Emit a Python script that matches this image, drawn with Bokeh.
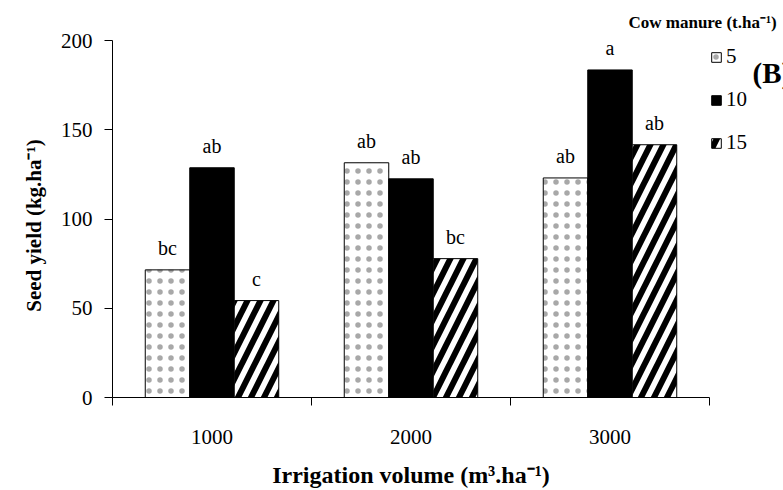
import math
from bokeh.plotting import figure
from bokeh.models import (FixedTicker, ColumnDataSource, Label, Legend, LegendItem,
                          Range1d)
from bokeh.transform import dodge
from bokeh.embed import file_html
from bokeh.resources import INLINE

# ---- data ----
groups = ["1000", "2000", "3000"]          # irrigation volume
manure = ["5", "10", "15"]                 # cow manure levels
yield5 = [71.5, 131.5, 123.0]
yield10 = [128.7, 122.5, 183.5]
yield15 = [54.3, 77.8, 141.6]
let5 = ["bc", "ab", "ab"]
let10 = ["ab", "ab", "a"]
let15 = ["c", "bc", "ab"]
yticks = [0, 50, 100, 150, 200]

FONT = "Liberation Serif"
BW = 0.2236

# frame covers the whole canvas; axes are placed at fixed locations inside it
W, H = 783, 490
PX0, PX3 = 112, 709          # screen x of x=0 and x=3
PY0, PY200 = 397, 40         # screen y of y=0 and y=200
kx = (PX3 - PX0) / 3.0
ky = (PY0 - PY200) / 200.0
x_rng = Range1d(-PX0 / kx, (W - PX0) / kx)
y_rng = Range1d(-(H - PY0) / ky, PY0 / ky)

def dx(px):
    return (px - PX0) / kx

def dy(py):
    return (PY0 - py) / ky

src = ColumnDataSource(dict(
    x=[i + 0.5 for i in range(len(groups))],
    y5=yield5, y10=yield10, y15=yield15,
    l5=let5, l10=let10, l15=let15,
))

p = figure(width=W, height=H, output_backend="svg", toolbar_location=None,
           x_range=x_rng, y_range=y_rng,
           min_border_left=0, min_border_right=0, min_border_top=0,
           min_border_bottom=0)
p.outline_line_color = None
p.xgrid.visible = False
p.ygrid.visible = False
p.background_fill_color = "white"
p.border_fill_color = "white"

r5 = p.vbar(x=dodge("x", -BW, range=p.x_range), top="y5", width=BW, source=src,
            fill_color="white", line_color="black", line_width=1,
            hatch_pattern="dot", hatch_scale=11, hatch_color="#a8a8a8")
r10 = p.vbar(x=dodge("x", 0, range=p.x_range), top="y10", width=BW, source=src,
             fill_color="black", line_color="black", line_width=1)
r15 = p.vbar(x=dodge("x", BW, range=p.x_range), top="y15", width=BW, source=src,
             fill_color="white", line_color="black", line_width=1,
             hatch_pattern="right_diagonal_line", hatch_scale=26, hatch_color="black",
             hatch_weight=6)

for off, ycol, lcol in [(-BW, "y5", "l5"), (0, "y10", "l10"), (BW, "y15", "l15")]:
    p.text(x=dodge("x", off, range=p.x_range), y=ycol, text=lcol, source=src,
           text_align="center", text_baseline="bottom", y_offset=-11,
           text_font=FONT, text_font_size="20px", text_color="black")

# axes
xa = p.xaxis[0]
xa.fixed_location = 0
xa.bounds = (0, len(groups))
xa.ticker = FixedTicker(ticks=[i + 0.5 for i in range(len(groups))],
                        minor_ticks=list(range(len(groups) + 1)))
xa.major_label_overrides = {i + 0.5: g for i, g in enumerate(groups)}
xa.major_tick_out = 0
xa.major_tick_in = 0
xa.minor_tick_out = 8
xa.minor_tick_in = 0
xa.minor_tick_line_color = "black"
xa.axis_line_color = "black"
xa.major_label_standoff = 24
xa.major_label_text_font = FONT
xa.major_label_text_font_size = "21px"
xa.major_label_text_color = "black"

ya = p.yaxis[0]
ya.fixed_location = 0
ya.bounds = (0, 200)
ya.ticker = FixedTicker(ticks=yticks)
ya.minor_tick_line_color = None
ya.major_tick_out = 8
ya.major_tick_in = 0
ya.axis_line_color = "black"
ya.major_label_standoff = 12
ya.major_label_text_font = FONT
ya.major_label_text_font_size = "21px"
ya.major_label_text_color = "black"

# axis titles
p.add_layout(Label(x=1.5, y=dy(474), text="Irrigation volume (m\u00b3.ha\u207b\u00b9)",
                   text_font=FONT, text_font_style="bold", text_font_size="24px",
                   text_align="center", text_baseline="middle", text_color="black"))
p.add_layout(Label(x=dx(33), y=dy(225), text="Seed yield (kg.ha\u207b\u00b9)",
                   angle=math.pi / 2,
                   text_font=FONT, text_font_style="bold", text_font_size="21px",
                   text_align="center", text_baseline="middle", text_color="black"))

legend = Legend(items=[LegendItem(label=manure[0], renderers=[r5]),
                       LegendItem(label=manure[1], renderers=[r10]),
                       LegendItem(label=manure[2], renderers=[r15])],
                location=(710, H - 155), orientation="vertical",
                padding=0, margin=0, spacing=18, border_line_color=None,
                background_fill_alpha=0, glyph_width=12, glyph_height=12,
                label_height=20, label_standoff=4,
                label_text_font=FONT, label_text_font_size="21px",
                label_text_color="black")
p.add_layout(legend, "center")

p.add_layout(Label(x=dx(628), y=dy(22), text="Cow manure (t.ha\u207b\u00b9)",
                   text_font=FONT, text_font_style="bold", text_font_size="17px",
                   text_baseline="middle", text_color="black"))
p.add_layout(Label(x=dx(752), y=dy(72), text="(B)",
                   text_font=FONT, text_font_style="bold", text_font_size="29px",
                   text_baseline="middle", text_color="black"))

open("out.html", "w").write(file_html(p, INLINE))
